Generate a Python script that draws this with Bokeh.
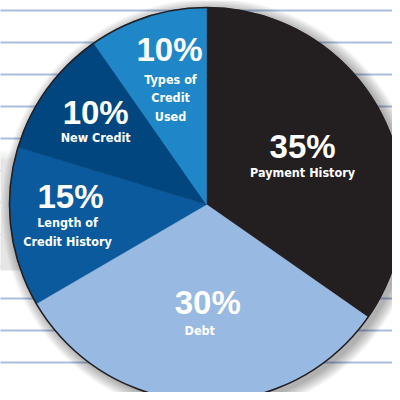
import numpy as np
from bokeh.plotting import figure
from bokeh.models import Range1d, ColumnDataSource
from bokeh.embed import file_html
from bokeh.resources import INLINE
from bokeh.core.properties import value

# ---- data ----
categories = ["Payment History", "Debt", "Length of Credit History", "New Credit", "Types of Credit Used"]
percent_labels = ["35%", "30%", "15%", "10%", "10%"]
slice_share = [34.7, 31.9, 13.1, 10.6, 9.7]   # angular share of each slice as drawn (%)
name_lines = [["Payment History"], ["Debt"], ["Length of", "Credit History"],
              ["New Credit"], ["Types of", "Credit", "Used"]]

# ---- styling / layout ----
colors = ["#231f20", "#97b9e2", "#0b5a9e", "#02467f", "#1f87c8"]
R = 197
CX, CY = 206, 204                              # pie centre in image pixels
label_r = [107, 109, 136, 137, 149]          # radial distance of the percent baseline
label_nudge = [-1.4, 3.0, -5.2, 0.0, -3.1]   # degrees from the slice's mid angle
name_gap = [20, 22, 20, 19, 24]              # px from percent to first name line
name_dx = [0, -8, -3, 0, 1]
line_color_bg = "#a9bde0"
W = H = 392

share = np.array(slice_share) / 100.0
cum = np.concatenate([[0], np.cumsum(share)])
start = np.pi / 2 - 2 * np.pi * cum[:-1]
end = np.pi / 2 - 2 * np.pi * cum[1:]
mid = (start + end) / 2

src = ColumnDataSource(dict(start=start, end=end, color=colors, cat=categories))

p = figure(width=W, height=H, x_range=Range1d(-CX, W - CX), y_range=Range1d(CY - H, CY),
           output_backend="svg", toolbar_location=None, min_border=0,
           x_axis_location=None, y_axis_location=None)
p.grid.visible = False
p.outline_line_color = None
p.background_fill_color = "white"
p.border_fill_color = "white"

# ruled paper lines (image rows 10, 42, ... every 32 px)
rows = np.arange(10, 400, 32)
p.segment(x0=-260, x1=260, y0=CY - rows, y1=CY - rows, line_color=line_color_bg, line_width=2)

# grey card shadow at left
p.quad(left=-260, right=-120, top=CY - 158, bottom=CY - 270, fill_color="#e5e5e5", line_color=None)
for i in range(8):
    p.quad(left=-260, right=-120, top=CY - 150 - i, bottom=CY - 151 - i,
           fill_color="#e5e5e5", fill_alpha=(i + 1) / 9.0, line_color=None)

# soft drop shadow of the pie
for k in range(1, 13):
    p.wedge(x=4, y=-3, radius=R + k, start_angle=0, end_angle=2 * np.pi,
            fill_color="black", fill_alpha=0.028, line_color=None)

p.wedge(x=0, y=0, radius=R, start_angle="start", end_angle="end", direction="clock",
        fill_color="color", line_color="color", line_width=0.5, source=src)
p.arc(x=0, y=0, radius=R, start_angle=0, end_angle=2 * np.pi, line_color="#231f20", line_width=1.6)

# labels
px, py, ptxt = [], [], []
nx, ny, ntxt = [], [], []
for i in range(len(categories)):
    a = mid[i] + np.deg2rad(label_nudge[i])
    x = label_r[i] * np.cos(a)
    y = label_r[i] * np.sin(a)
    px.append(x); py.append(y + 11); ptxt.append(percent_labels[i])
    for j, ln in enumerate(name_lines[i]):
        nx.append(x + name_dx[i]); ny.append(y - name_gap[i] - 18.5 * j + 5); ntxt.append(ln)

p.text(x=px, y=py, text=ptxt, text_font=value("Liberation Sans"), text_font_style="bold",
       text_font_size="33px", text_color="white", text_align="center", text_baseline="alphabetic")
p.text(x=nx, y=ny, text=ntxt, text_font=value("DejaVu Sans Condensed"),
       text_font_style="bold",
       text_font_size="12.5px", text_color="white", text_align="center", text_baseline="alphabetic")

open("out.html", "w").write(file_html(p, INLINE))
